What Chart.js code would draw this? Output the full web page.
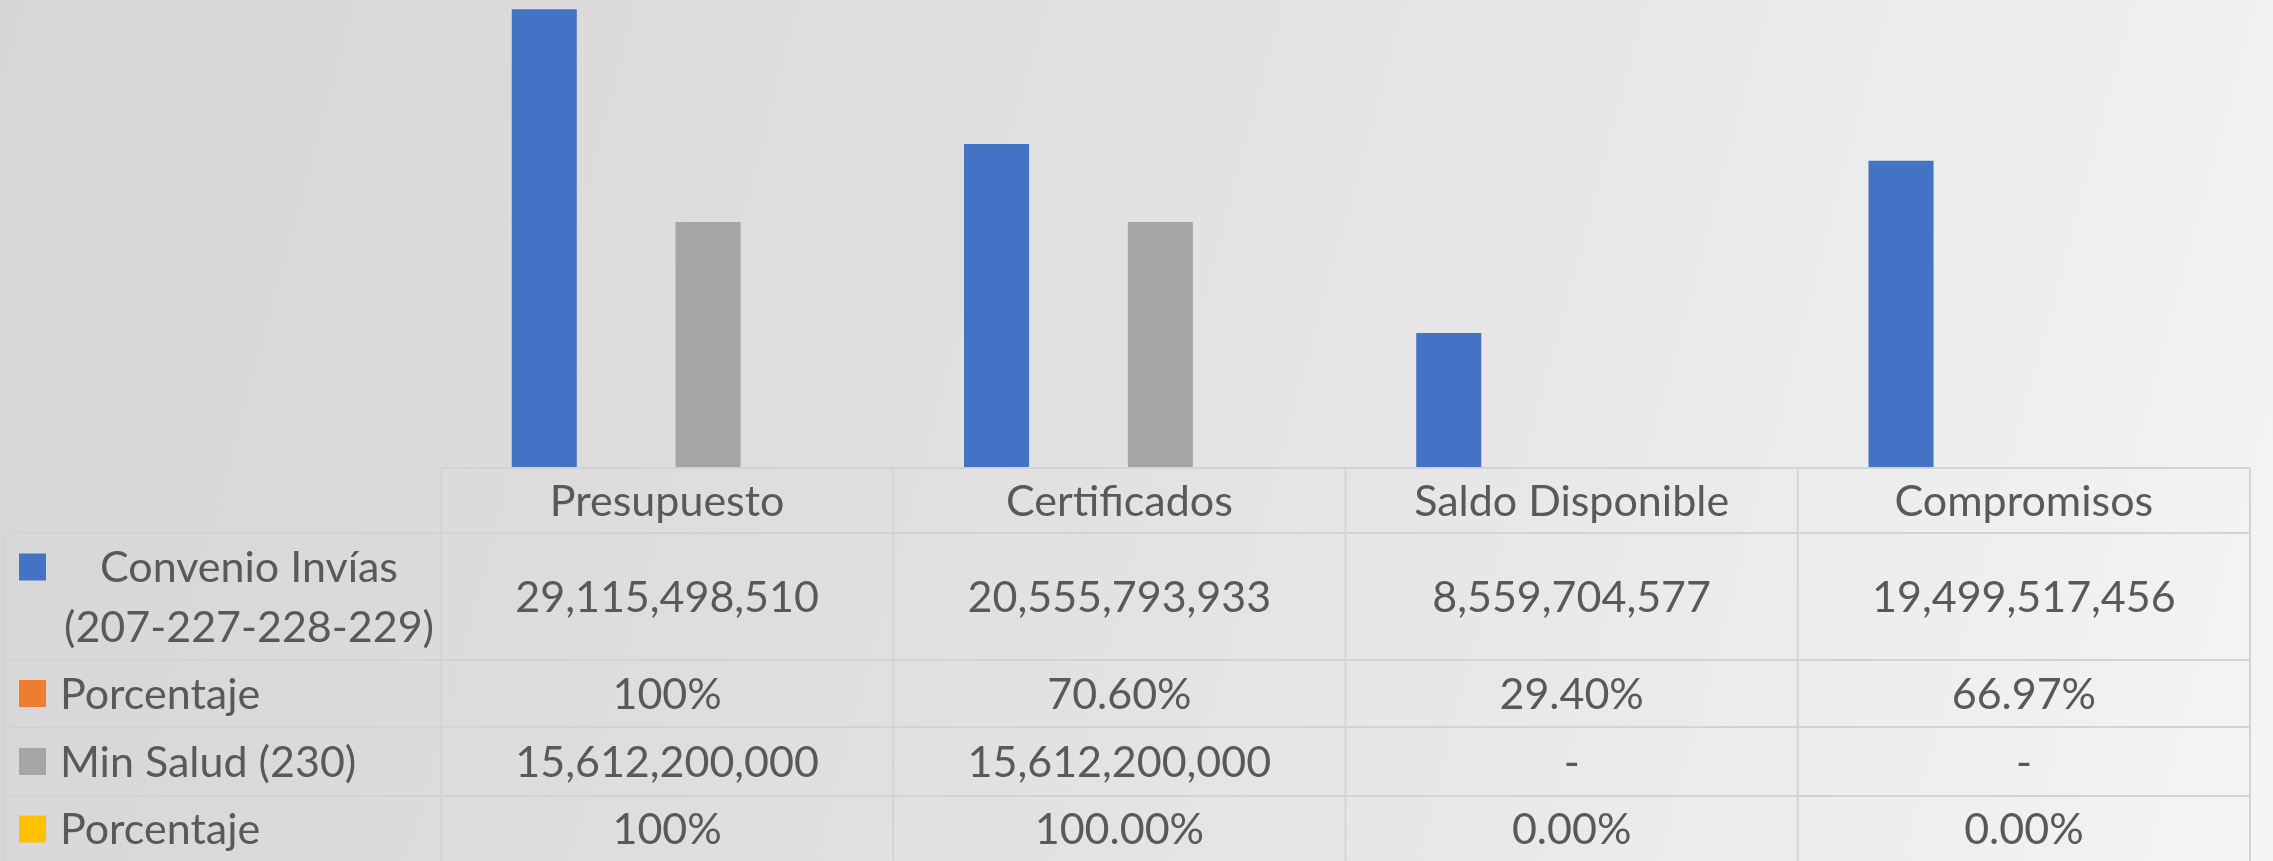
<!DOCTYPE html>
<html>
<head>
<meta charset="utf-8">
<script src="https://cdn.jsdelivr.net/npm/chart.js@4.4.1/dist/chart.umd.min.js"></script>
<style>
  html, body { margin: 0; padding: 0; overflow: hidden; }
  body {
    width: 2273px; height: 861px;
    background: linear-gradient(105deg, #d6d6d6 0%, #dadada 20%, #e2e2e2 50%, #ebebeb 75%, #f4f4f4 100%);
  }
  canvas { display: block; }
</style>
</head>
<body>
<canvas id="chart" width="2273" height="861"></canvas>
<script>
  var categories = ['Presupuesto', 'Certificados', 'Saldo Disponible', 'Compromisos'];
  var seriesNames = ['Convenio Invías (207-227-228-229)', 'Porcentaje', 'Min Salud (230)', 'Porcentaje'];
  var seriesColors = ['#4472C4', '#ED7D31', '#A5A5A5', '#FFC000'];

  var convenioValues = [29115498510, 20555793933, 8559704577, 19499517456];
  var convenioPct = [1, 0.706, 0.294, 0.6697];
  var minSaludValues = [15612200000, 15612200000, 0, 0];
  var minSaludPct = [1, 1, 0, 0];

  // textos de porcentaje tal como aparecen en la tabla
  var convenioPctLabels = ['100%', '70.60%', '29.40%', '66.97%'];
  var minSaludPctLabels = ['100%', '100.00%', '0.00%', '0.00%'];

  var FONT = '43px Lato, "Open Sans", sans-serif';
  var TEXT = '#595959';
  var LINE = '#d3d3d3';

  function fmtNum(v) {
    return v === 0 ? '-' : v.toLocaleString('en-US');
  }

  /** Tabla de datos bajo el gráfico (estilo Excel) */
  var dataTable = {
    id: 'dataTable',
    afterDraw: function(chart) {
      var ctx = chart.ctx;
      var area = chart.chartArea;
      var xs = chart.scales.x;
      var colW = (area.right - area.left) / categories.length;
      var top = area.bottom;
      var rowH = [65, 127, 67, 69, 66];
      var ys = [top];
      rowH.forEach(function(h) { ys.push(ys[ys.length - 1] + h); });

      ctx.save();
      ctx.strokeStyle = LINE;
      ctx.lineWidth = 2;
      ctx.beginPath();
      // borde superior de la cabecera (sólo columnas de datos)
      ctx.moveTo(area.left, ys[0]); ctx.lineTo(area.right, ys[0]);
      for (var r = 1; r < ys.length; r++) {
        ctx.moveTo(4, ys[r]); ctx.lineTo(area.right, ys[r]);
      }
      ctx.moveTo(4, ys[1]); ctx.lineTo(4, ys[ys.length - 1]);
      for (var c = 0; c <= categories.length; c++) {
        var x = area.left + c * colW;
        ctx.moveTo(x, ys[0]); ctx.lineTo(x, ys[ys.length - 1]);
      }
      ctx.stroke();

      ctx.font = FONT;
      ctx.fillStyle = TEXT;
      ctx.textBaseline = 'alphabetic';
      var capHalf = 15;

      function mid(i) { return (ys[i] + ys[i + 1]) / 2; }

      // cabecera
      ctx.textAlign = 'center';
      categories.forEach(function(cat, i) {
        ctx.fillText(cat, xs.getPixelForValue(i), mid(0) + capHalf);
      });

      var rows = [
        convenioValues.map(fmtNum),
        convenioPctLabels,
        minSaludValues.map(fmtNum),
        minSaludPctLabels
      ];
      rows.forEach(function(vals, r) {
        ctx.textAlign = 'center';
        vals.forEach(function(v, i) {
          ctx.fillText(v, xs.getPixelForValue(i), mid(r + 1) + capHalf);
        });
      });

      // leyenda en la primera columna
      var keyX = 19, keySize = 27;
      // fila 1: dos líneas centradas
      var m1 = mid(1);
      ctx.fillStyle = seriesColors[0];
      ctx.fillRect(keyX, m1 - 43, keySize, keySize);
      ctx.fillStyle = TEXT;
      ctx.textAlign = 'center';
      ctx.fillText('Convenio Invías', 249, m1 - 15);
      ctx.fillText('(207-227-228-229)', 249, m1 + 45);

      ctx.textAlign = 'left';
      for (var k = 1; k < 4; k++) {
        var m = mid(k + 1);
        ctx.fillStyle = seriesColors[k];
        ctx.fillRect(keyX, m - keySize / 2, keySize, keySize);
        ctx.fillStyle = TEXT;
        ctx.fillText(seriesNames[k], 60, m + capHalf);
      }
      ctx.restore();
    }
  };

  var datasets = [convenioValues, convenioPct, minSaludValues, minSaludPct].map(function(vals, i) {
    return {
      label: seriesNames[i],
      data: vals,
      backgroundColor: seriesColors[i],
      borderWidth: 0,
      categoryPercentage: 0.7244,
      barPercentage: 0.794
    };
  });

  new Chart(document.getElementById('chart'), {
    type: 'bar',
    data: { labels: categories, datasets: datasets },
    options: {
      responsive: false,
      animation: false,
      devicePixelRatio: 1,
      layout: { padding: { left: 441, right: 23, top: 0, bottom: 393 } },
      plugins: { legend: { display: false }, tooltip: { enabled: false } },
      scales: {
        x: { display: false, grid: { display: false } },
        y: { display: false, min: 0, max: 29700000000 }
      }
    },
    plugins: [dataTable]
  });
</script>
</body>
</html>
